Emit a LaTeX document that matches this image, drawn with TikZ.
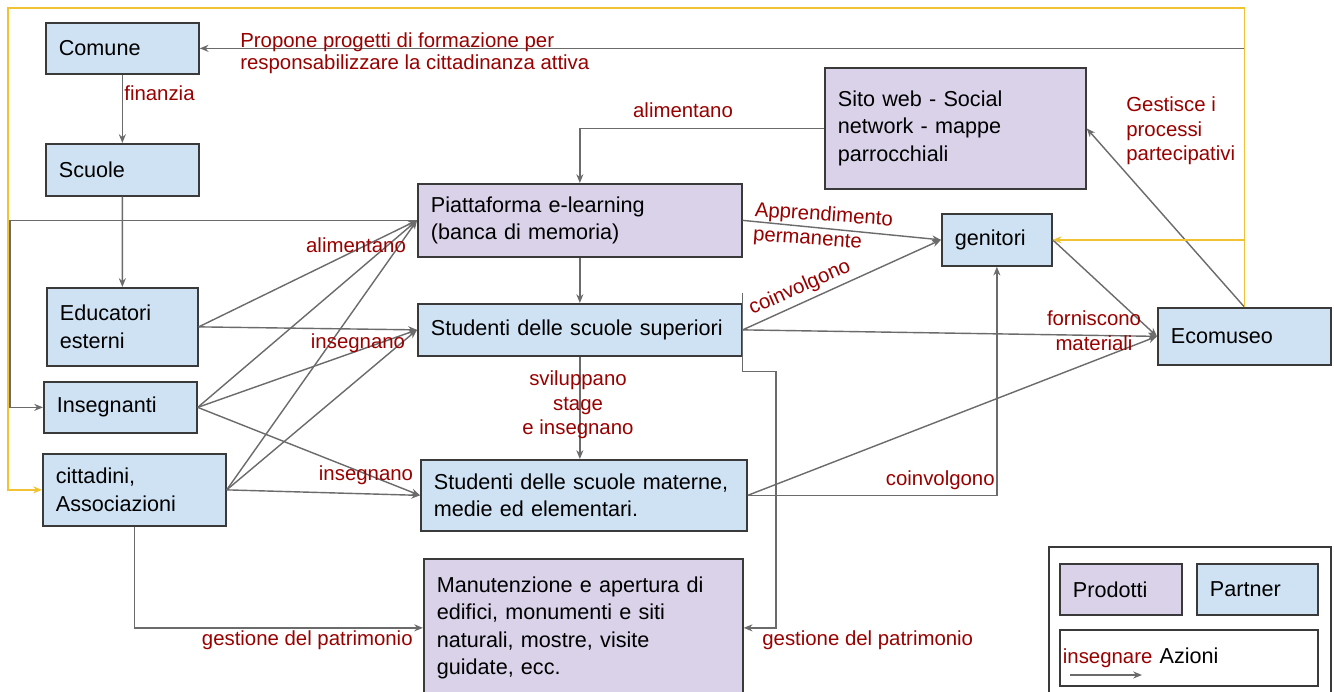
\documentclass[tikz,border=0pt]{standalone}
\usepackage{fontspec}
\setmainfont{Liberation Sans}
\usepackage{tikz}
\usetikzlibrary{positioning,arrows.meta}
\definecolor{partnerfill}{HTML}{CFE2F3}
\definecolor{prodfill}{HTML}{D9D2E9}
\definecolor{bordo}{HTML}{3A3A3A}
\definecolor{freccia}{HTML}{6B6B6B}
\definecolor{rosso}{HTML}{990000}
\definecolor{giallo}{HTML}{F1C232}
\newcommand{\boxfont}{\fontsize{12.3}{15.6}\selectfont}
\newcommand{\lblfont}{\fontsize{11.6}{14}\selectfont}
\tikzset{x=0.02cm, y=-0.02cm,
  box/.style={draw=bordo, line width=1pt, anchor=north west, inner xsep=0.26cm, inner ysep=0pt, align=left, font=\boxfont},
  partner/.style={box, fill=partnerfill},
  prodotto/.style={box, fill=prodfill},
  lbl/.style={text=rosso, font=\lblfont, inner sep=0pt, align=center},
  conn/.style={draw=freccia, line width=0.8pt, -{Stealth[length=5pt,width=4pt]}},
  ritorno/.style={draw=giallo, line width=0.9pt, -{Stealth[length=5pt,width=4pt]}}}

\begin{document}
\begin{tikzpicture}
  \fill[white] (0,0) rectangle (1334,692);
  \useasboundingbox (0,0) rectangle (1334,692);

  \node (comune) [partner, text width=2.54cm, minimum height=1.02cm] at (45,22) {Comune};
  \node (scuole) [partner, text width=2.54cm, minimum height=1.04cm] at (45,143) {Scuole};
  \node (educ) [partner, text width=2.50cm, minimum height=1.56cm] at (46,287) {Educatori\\esterni};
  \node (insegn) [partner, text width=2.54cm, minimum height=1.02cm] at (43,381) {Insegnanti};
  \node (citt) [partner, text width=3.14cm, minimum height=1.44cm] at (42,453) {cittadini,\\Associazioni};

  \node (piatt) [prodotto, text width=5.96cm, minimum height=1.46cm] at (417,183) {Piattaforma e-learning\\(banca di memoria)};
  \node (sup) [partner, text width=5.96cm, minimum height=1.04cm] at (417,303) {Studenti delle scuole superiori};
  \node (mat) [partner, text width=6.00cm, minimum height=1.42cm] at (420,459) {Studenti delle scuole materne,\\medie ed elementari.};
  \node (manut) [prodotto, text width=5.86cm, minimum height=2.76cm] at (423,558) {Manutenzione e apertura di\\edifici, monumenti e siti\\naturali, mostre, visite\\guidate, ecc.};

  \node (sito) [prodotto, text width=4.70cm, minimum height=2.42cm] at (824,67) {Sito web - Social\\network - mappe\\parrocchiali};
  \node (genit) [partner, text width=1.68cm, minimum height=1.04cm] at (941,213) {genitori};
  \node (ecom) [partner, text width=2.94cm, minimum height=1.14cm] at (1157,307) {Ecomuseo};

  \node (leg) [box, minimum width=5.64cm, minimum height=3.04cm] at (1048,546) {};
  \node (prod) [prodotto, text width=1.92cm, minimum height=1.02cm] at (1059,563) {Prodotti};
  \node (part) [partner, text width=1.90cm, minimum height=1.02cm] at (1196,563) {Partner};
  \node (azioni) [box, inner xsep=0.06cm, text width=5.04cm, minimum height=1.12cm] at (1059,629) {{\lblfont\color{rosso}insegnare} Azioni};
  \coordinate (azA) at (1070,675);
  \coordinate (azB) at (1142,675);
  \draw [conn] (azA) -- (azB);

  \draw [conn] (ecom.north) |- (comune.east);
  \draw [conn] (comune.south) -- (scuole.north);
  \draw [conn] (scuole.south) -- (educ.north);
  \draw [conn] (piatt.west) -| (10,300) |- (insegn.west);

  \draw [conn] (educ.east) -- (piatt.west);
  \draw [conn] (educ.east) -- (sup.west);
  \draw [conn] (insegn.east) -- (piatt.west);
  \draw [conn] (insegn.east) -- (sup.west);
  \draw [conn] (insegn.east) -- (mat.west);
  \draw [conn] (citt.east) -- (piatt.west);
  \draw [conn] (citt.east) -- (sup.west);
  \draw [conn] (citt.east) -- (mat.west);
  \draw [conn] (citt.south) |- (manut.west);

  \draw [conn] (sito.west) -| (piatt.north);
  \draw [conn] (piatt.south) -- (sup.north);
  \draw [conn] (sup.south) -- (sup.south |- mat.north);
  \draw [conn] ([yshift=0.2cm]sup.north east) -- ([yshift=-0.3cm]sup.south east) -| (776,450) |- (manut.east);

  \draw [conn] (piatt.east) -- (genit.west);
  \draw [conn] (sup.east) -- (genit.west);
  \draw [conn] (sup.east) -- (ecom.west);
  \draw [conn] (genit.east) -- (ecom.west);
  \draw [conn] (mat.east) -- (ecom.west);
  \draw [conn] (mat.east) -| (genit.south);
  \draw [conn] (ecom.north) -- (sito.east);

  \draw [ritorno] (ecom.north) |- (8,8) |- (citt.west);
  \draw [ritorno] (ecom.north |- genit.east) -- (genit.east);

  \node (lpropone) [lbl, align=left, anchor=west, font=\fontsize{11.6}{12.4}\selectfont] at (240,53) {Propone progetti di formazione per\\responsabilizzare la cittadinanza attiva};
  \node (lfinanzia) [lbl, anchor=west] at (124,93) {finanzia};
  \node (lalim1) [lbl] at (683,110) {alimentano};
  \node (lgestisce) [lbl, align=left, anchor=west] at (1126,131) {Gestisce i\\processi\\partecipativi};
  \node (lappr) [lbl, align=left, rotate=-4] at (823,228) {Apprendimento\\permanente};
  \node (lcoinv1) [lbl, rotate=24] at (800,288) {coinvolgono};
  \node (lalim2) [lbl] at (356,245) {alimentano};
  \node (linsegn1) [lbl] at (358,343) {insegnano};
  \node (linsegn2) [lbl] at (366,475) {insegnano};
  \node (lsvil) [lbl] at (578,405) {sviluppano\\stage\\e insegnano};
  \node (lforn) [lbl] at (1094,331) {forniscono\\materiali};
  \node (lcoinv2) [lbl, anchor=east] at (995,480) {coinvolgono};
  \node (lgest1) [lbl, anchor=east] at (413,640) {gestione del patrimonio};
  \node (lgest2) [lbl, anchor=west] at (762,640) {gestione del patrimonio};
\end{tikzpicture}
\end{document}
